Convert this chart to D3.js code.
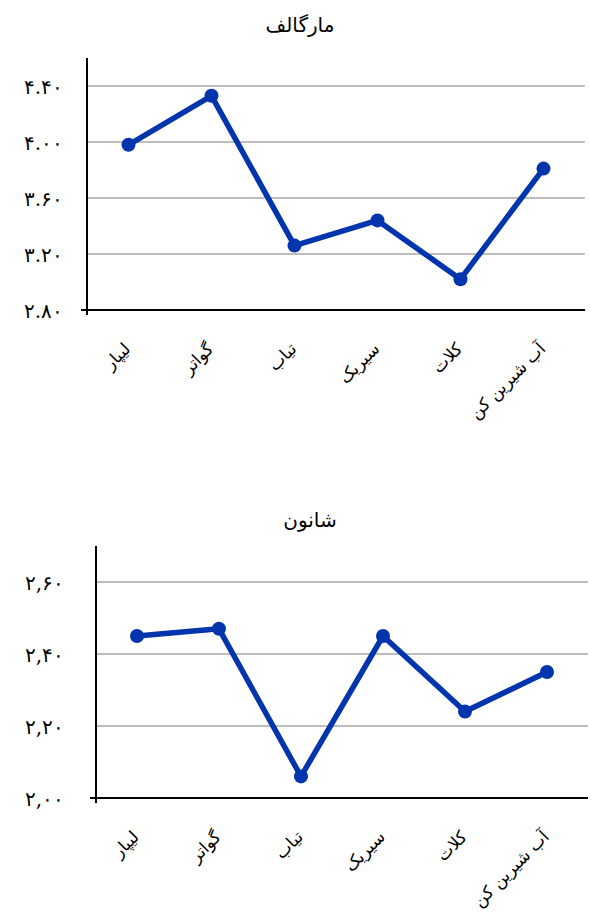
<!DOCTYPE html>
<html>
<head>
<meta charset="utf-8">
<script src="https://cdn.jsdelivr.net/npm/d3@7"></script>
<style>
  body { margin: 0; background: #fff; }
  text { font-family: "DejaVu Sans", sans-serif; fill: #000; }
</style>
</head>
<body>
<svg id="chart" width="591" height="916"></svg>
<script>
var categories = ["لیپار", "گواتر", "تیاب", "سیریک", "کلات", "آب شیرین کن"];
var margalef = [3.98, 4.33, 3.26, 3.44, 3.02, 3.81];
var shannon = [2.45, 2.47, 2.06, 2.45, 2.24, 2.35];
var margalefTicks = [2.8, 3.2, 3.6, 4.0, 4.4];
var shannonTicks = [2.0, 2.2, 2.4, 2.6];

var svg = d3.select("#chart");
var faDigits = "۰۱۲۳۴۵۶۷۸۹";
function toFa(s) {
    return s.replace(/[0-9]/g, function (c) { return faDigits[+c]; });
}

function drawChart(cfg) {
    var g = svg.append("g");

    var x = d3.scaleBand()
        .domain(categories)
        .range([cfg.left, cfg.right]);

    var y = d3.scaleLinear()
        .domain(cfg.domain)
        .range([cfg.bottom, cfg.top]);

    // title
    g.append("text")
        .attr("x", cfg.titleX)
        .attr("y", cfg.titleY)
        .attr("text-anchor", "middle")
        .style("font-size", "20px")
        .text(cfg.title);

    // gridlines
    g.append("g")
        .selectAll("line")
        .data(cfg.ticks.slice(1))
        .enter().append("line")
        .attr("x1", cfg.left)
        .attr("x2", cfg.right)
        .attr("y1", function (d) { return y(d); })
        .attr("y2", function (d) { return y(d); })
        .attr("stroke", "#bdbdbd")
        .attr("stroke-width", 2);

    // y axis
    var yAxis = g.append("g")
        .attr("transform", "translate(" + cfg.left + ",0)")
        .call(d3.axisLeft(y).tickValues(cfg.ticks).tickSize(0).tickPadding(cfg.labelPad)
            .tickFormat(function (d) { return toFa(d3.format(".2f")(d)).replace(".", cfg.sep); }));
    yAxis.select(".domain").remove();
    yAxis.selectAll("text")
        .style("font-size", "20px")
        .style("font-family", "'DejaVu Serif', serif")
        .attr("dy", "0.35em");
    g.append("line")
        .attr("x1", cfg.left).attr("x2", cfg.left)
        .attr("y1", cfg.top).attr("y2", cfg.bottom + 5)
        .attr("stroke", "#000").attr("stroke-width", 2);

    // x axis
    var xAxis = g.append("g")
        .attr("transform", "translate(0," + cfg.bottom + ")")
        .call(d3.axisBottom(x).tickSize(0).tickPadding(0));
    xAxis.select(".domain").remove();
    xAxis.selectAll("text")
        .style("font-size", "17px")
        .attr("text-anchor", "end")
        .attr("dy", null)
        .attr("transform", "translate(3,40) rotate(-45)");
    g.append("line")
        .attr("x1", cfg.left - 6).attr("x2", cfg.right)
        .attr("y1", cfg.bottom).attr("y2", cfg.bottom)
        .attr("stroke", "#000").attr("stroke-width", 2);

    var pts = categories.map(function (c, i) { return { c: c, v: cfg.values[i] }; });

    g.append("path")
        .datum(pts)
        .attr("fill", "none")
        .attr("stroke", "#0035ad")
        .attr("stroke-width", 5.5)
        .attr("stroke-linejoin", "round")
        .attr("d", d3.line()
            .x(function (d) { return x(d.c) + x.bandwidth() / 2; })
            .y(function (d) { return y(d.v); }));

    g.append("g")
        .selectAll("circle")
        .data(pts)
        .enter().append("circle")
        .attr("cx", function (d) { return x(d.c) + x.bandwidth() / 2; })
        .attr("cy", function (d) { return y(d.v); })
        .attr("r", 7)
        .attr("fill", "#0035ad");
}

drawChart({
    title: "مارگالف", titleX: 300, titleY: 32,
    values: margalef, ticks: margalefTicks, sep: ".",
    domain: [2.8, 4.6], left: 87, right: 585, top: 58, bottom: 310,
    labelPad: 24
});

drawChart({
    title: "شانون", titleX: 310, titleY: 527,
    values: shannon, ticks: shannonTicks, sep: ",",
    domain: [2.0, 2.7], left: 96, right: 588, top: 546, bottom: 798,
    labelPad: 32
});
</script>
</body>
</html>
